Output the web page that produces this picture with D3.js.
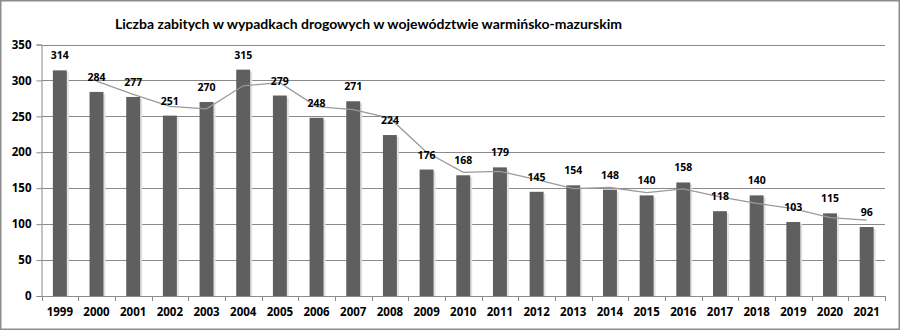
<!DOCTYPE html>
<html><head><meta charset="utf-8">
<script src="https://cdn.jsdelivr.net/npm/d3@7"></script>
<style>body{margin:0;background:#fff}svg{display:block}</style>
</head><body>
<svg id="c" width="900" height="330"></svg>
<script>
const years = ["1999","2000","2001","2002","2003","2004","2005","2006","2007","2008","2009","2010","2011","2012","2013","2014","2015","2016","2017","2018","2019","2020","2021"];
const killed = [314,284,277,251,270,315,279,248,271,224,176,168,179,145,154,148,140,158,118,140,103,115,96];
// trend line (2-period moving average shown in the picture), starting at 2000
const trendYears = years.slice(1);
const trendValues = [299,280.5,264,260.5,292.5,297,263.5,259.5,247.5,200,172,173.5,162,149.5,151,144,149,138,129,121.5,109,105.5];
const yTicks = [0,50,100,150,200,250,300,350];
const title = "Liczba zabitych w wypadkach drogowych w województwie warmińsko-mazurskim";

const svg = d3.select("#c");
const F = "'Open Sans', sans-serif";
const FT = "Lato, 'Open Sans', sans-serif";
const m = {l:41.5, r:885, t:44.5, b:296};

svg.append("rect").attr("x",0.75).attr("y",0.75).attr("width",898.5).attr("height",328.5)
  .attr("fill","#fff").attr("stroke","#8c8c8c").attr("stroke-width",1.5);

const x = d3.scaleBand().domain(years).range([m.l,m.r]).paddingInner(0.62).paddingOuter(0.31);
const y = d3.scaleLinear().domain([0,350]).range([m.b,m.t]);

// grid
svg.append("g").selectAll("line").data(yTicks.filter(d=>d>0)).join("line")
  .attr("x1",m.l).attr("x2",m.r).attr("y1",d=>Math.round(y(d))+0.5).attr("y2",d=>Math.round(y(d))+0.5)
  .attr("stroke","#8a8a8a").attr("stroke-width",1);

// y axis
const ya = svg.append("g").attr("transform",`translate(${m.l},0)`)
  .call(d3.axisLeft(y).tickValues(yTicks).tickSize(5).tickPadding(5));
ya.select(".domain").attr("stroke","#8a8a8a");
ya.selectAll(".tick line").attr("stroke","#8a8a8a");
ya.selectAll("text").attr("font-family",F).attr("font-weight","bold").attr("font-size","11.5px").attr("fill","#000");

// bar shadows
svg.append("g").selectAll("rect").data(killed).join("rect")
  .attr("x",(d,i)=>x(years[i])+2).attr("y",d=>y(d)+2)
  .attr("width",x.bandwidth()).attr("height",d=>m.b-y(d)-1)
  .attr("fill","#e2e2e2");
// bars
svg.append("g").selectAll("rect").data(killed).join("rect")
  .attr("x",(d,i)=>x(years[i])).attr("y",d=>y(d))
  .attr("width",x.bandwidth()).attr("height",d=>m.b-y(d))
  .attr("fill","#5f5f5f");

// x axis
const band = x.step();
const xa = svg.append("g").attr("transform",`translate(0,${m.b})`)
  .call(d3.axisBottom(x).tickSize(0).tickPadding(12));
xa.select(".domain").attr("stroke","#8a8a8a");
xa.selectAll("text").attr("font-family",F).attr("font-weight","bold").attr("font-size","11.5px").attr("fill","#000");
svg.append("g").selectAll("line").data(d3.range(years.length+1)).join("line")
  .attr("x1",i=>Math.round(m.l+i*band)+0.5).attr("x2",i=>Math.round(m.l+i*band)+0.5)
  .attr("y1",m.b).attr("y2",m.b+5).attr("stroke","#8a8a8a");

// trend line
const line = d3.line().x((d,i)=>x(trendYears[i])+x.bandwidth()/2).y(d=>y(d));
svg.append("path").datum(trendValues).attr("d",line)
  .attr("fill","none").attr("stroke","#9a9a9a").attr("stroke-width",1.3);

// value labels
svg.append("g").selectAll("text").data(killed).join("text")
  .attr("x",(d,i)=>x(years[i])+x.bandwidth()/2).attr("y",d=>y(d)-11)
  .attr("text-anchor","middle").attr("font-family",F).attr("font-weight","bold")
  .attr("font-size","10.5px").attr("fill","#000").text(d=>d);

// title
svg.append("text").attr("x",115).attr("y",29).attr("font-family",FT).attr("font-weight","bold")
  .attr("font-size","14px").attr("fill","#000").text(title);
</script>
</body></html>
